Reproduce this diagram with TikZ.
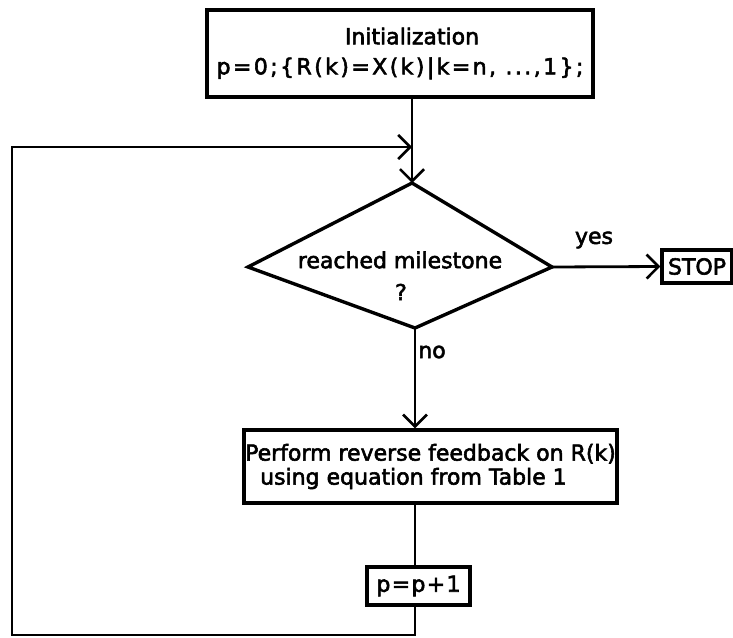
\documentclass[tikz,border=0pt]{standalone}
\usepackage{fontspec}
\setmainfont[FakeBold=2.5]{DejaVu Sans}
\usetikzlibrary{arrows.meta}
\tikzset{
  boxst/.style={draw, line width=3.2pt, inner sep=0pt, align=center, font=\fontsize{22}{23}\selectfont},
  lbl/.style={inner sep=0pt, font=\fontsize{22}{23}\selectfont},
  conn/.style={line width=2.8pt},
  arr/.style={conn, -{Straight Barb[length=12pt, width=24pt, line width=2.6pt]}},
  dia/.style={line width=3.4pt, line join=miter}
}
\begin{document}
\begin{tikzpicture}[x=1pt, y=-1pt]
\useasboundingbox[fill=white] (0,0) rectangle (733,637);
% initialization box
\node[boxst, minimum width=386pt, minimum height=87pt] (init) at (400,53.5)
  {\hspace*{24pt}Initialization\\[7pt]{\addfontfeature{LetterSpace=11}p=0;\{R(k)=X(k)|k=n, ...,1\};}};
% decision diamond
\coordinate (dt) at (412,183);
\coordinate (dr) at (552,267);
\coordinate (db) at (415,328);
\coordinate (dl) at (248,267);
\draw[dia] (dt) -- (dr) -- (db) -- (dl) -- cycle;
\node[lbl] (q1) at (400,260) {reached milestone};
\node[lbl] (q2) at (401,292) {?};
% stop box
\node[boxst, minimum width=70pt, minimum height=33pt] (stop) at (697,266.5) {STOP};
\node[lbl] (yes) at (594,240) {yes};
\node[lbl] (no) at (432,352) {no};
% feedback box
\node[boxst, minimum width=373pt, minimum height=73pt, align=left] (fb) at (430.5,466.5)
  {Perform reverse feedback on R(k)\\[1pt]\hspace*{15pt}using equation from Table 1};
% increment box
\node[boxst, minimum width=103pt, minimum height=38pt] (pp) at (418.5,586)
  {{\addfontfeature{LetterSpace=6}p=p+1}};
% loop coordinates
\coordinate (c1) at (415,635);
\coordinate (c2) at (12,635);
\coordinate (c3) at (12,147);
% connectors
\draw[arr] (init.south -| dt) -- (dt);
\draw[arr] (dr) -- (stop.west);
\draw[arr] (db) -- (db |- fb.north);
\draw[conn] (fb.south -| db) -- (pp.north -| db);
\draw[arr] (pp.south -| db) -- (c1) -- (c2) -- (c3) -- (c3 -| dt);
\end{tikzpicture}
\end{document}
